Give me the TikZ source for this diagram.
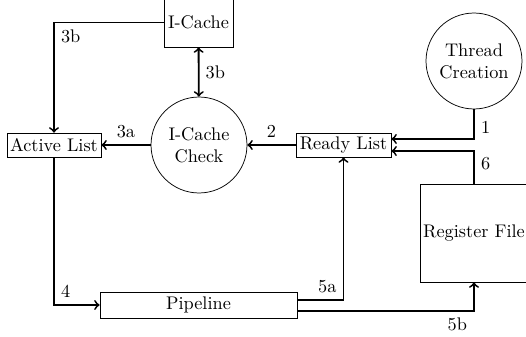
\documentclass[tikz,border=0pt]{standalone}
\begin{document}
\begin{tikzpicture}[x=0.547pt, y=-0.547pt,
    box/.style={draw, rectangle, inner sep=1pt},
    unit/.style={draw, circle, align=center, minimum size=52.5pt, inner sep=0pt},
    link/.style={->, line width=1pt}]
    \useasboundingbox (0,0) rectangle (526,337);

    % Caches
    \node[box, minimum width=37.7pt, minimum height=26.8pt] (icache) at (198.5, 22.5) {I-Cache};
    \node[unit] (check) at (199, 145) {I-Cache\\Check};

    % Lists
    \node[box, minimum width=51.4pt, minimum height=13.1pt] (active) at (54, 145) {Active List};
    \node[box, minimum width=52pt, minimum height=13.1pt] (ready) at (343.5, 145) {Ready List};

    % Thread creation and register file
    \node[unit] (thread) at (474, 61) {Thread\\Creation};
    \node[box, minimum width=59pt, minimum height=53.6pt] (regfile) at (474, 233) {Register File};

    % Pipeline
    \node[box, minimum width=107.8pt, minimum height=14.2pt] (pipeline) at (198.5, 305) {Pipeline};

    % Connections
    \draw[link] (icache.west) -| (active.north) node[pos=0.5, below right] {3b};
    \draw[link, <->] (icache) -- (check) node[midway, right] {3b};
    \draw[link] (check) -- (active) node[midway, above] {3a};
    \draw[link] (ready) -- (check) node[midway, above] {2};
    \draw[link] (thread.south) |- ([yshift=3.3pt]ready.east) node[pos=0.3, right] {1};
    \draw[link] (regfile.north) |- ([yshift=-3.3pt]ready.east) node[pos=0.3, right] {6};
    \draw[link] (active.south) |- (pipeline.west) node[pos=0.5, above right] {4};
    \draw[link] ([yshift=2.7pt]pipeline.east) -| (ready.south) node[pos=0.5, above left] {5a};
    \draw[link] ([yshift=-3.3pt]pipeline.east) -| (regfile.south) node[pos=0.5, below left] {5b};
\end{tikzpicture}
\end{document}
